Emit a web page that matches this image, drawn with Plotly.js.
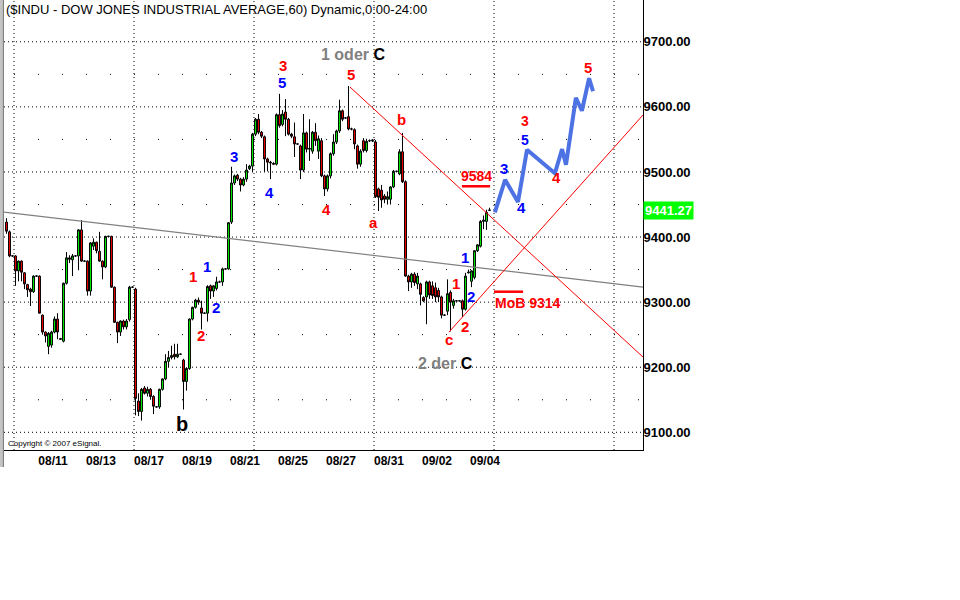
<!DOCTYPE html>
<html><head><meta charset="utf-8">
<script src="https://cdn.plot.ly/plotly-3.0.1.min.js"></script>
<style>html,body{margin:0;padding:0;background:#fff}#chart{width:960px;height:600px}</style>
</head><body><div id="chart"></div>
<script>
// ---------------- DATA ----------------
// trading days shown (8 hourly bars per day); 3 bars of 08/07 precede 08/10
const dayLabels = ['08/10','08/11','08/12','08/13','08/14','08/17','08/18','08/19','08/20','08/21',
                   '08/24','08/25','08/26','08/27','08/28','08/31','09/01','09/02','09/03','09/04'];
const tickDays = ['08/11','08/13','08/17','08/19','08/21','08/25','08/27','08/31','09/02','09/04'];
const barsPerDay = 8;
const preBars = 3;

const open = [
 9423,9408,9371,
 9371,9348,9363,9345,9327,9320,9316,9340,
 9340,9280,9254,9232,9234,9254,9274,9244,
 9240,9329,9368,9365,9371,9371,9411,9363,
 9363,9317,9386,9392,9378,9363,9354,9401,
 9401,9323,9269,9254,9271,9262,9273,9323,
 9320,9148,9132,9168,9160,9166,9155,9139,
 9139,9166,9182,9209,9215,9220,9216,9220,
 9211,9178,9198,9274,9292,9303,9291,9283,
 9283,9325,9317,9321,9331,9331,9351,9351,
 9423,9483,9495,9489,9480,9489,9505,9509,
 9558,9581,9561,9554,9520,9515,9513,9512,
 9588,9573,9592,9581,9558,9554,9543,9540,
 9503,9560,9535,9532,9561,9532,9548,9494,
 9474,9494,9528,9546,9563,9594,9583,9585,
 9566,9565,9540,9512,9548,9533,9548,9548,
 9546,9474,9472,9463,9458,9458,9477,9501,
 9497,9531,9485,9340,9331,9343,9328,9328,
 9307,9308,9331,9325,9322,9318,9308,9280,
 9286,9315,9295,9302,9302,9302,9289,9345,
 9332,9338,9379,9386,9424,9424,9441
];
const high = [
 9429,9410,9372,
 9372,9364,9364,9346,9328,9322,9341,9341,
 9341,9281,9255,9254,9256,9278,9283,9245,
 9330,9377,9372,9374,9372,9412,9426,9364,
 9364,9392,9398,9393,9408,9364,9402,9402,
 9402,9324,9270,9272,9273,9274,9325,9324,
 9322,9160,9168,9171,9170,9168,9157,9140,
 9167,9183,9220,9225,9233,9236,9236,9221,
 9213,9200,9275,9293,9305,9307,9302,9284,
 9326,9327,9326,9339,9333,9353,9352,9423,
 9508,9496,9497,9491,9492,9512,9511,9560,
 9583,9589,9563,9556,9522,9517,9515,9590,
 9620,9595,9612,9583,9560,9576,9544,9542,
 9589,9562,9581,9563,9575,9556,9552,9496,
 9496,9530,9558,9565,9611,9596,9584,9632,
 9568,9567,9542,9535,9552,9551,9550,9550,
 9549,9476,9480,9466,9470,9478,9503,9502,
 9535,9560,9487,9342,9345,9346,9345,9330,
 9309,9333,9333,9332,9330,9322,9310,9281,
 9335,9318,9305,9303,9303,9304,9345,9350,
 9349,9380,9389,9426,9433,9442,9445
];
const low = [
 9405,9369,9370,
 9325,9332,9332,9320,9308,9294,9314,9339,
 9283,9250,9238,9220,9230,9252,9243,9242,
 9238,9327,9360,9340,9370,9349,9362,9362,
 9310,9310,9380,9375,9362,9335,9352,9400,
 9322,9268,9237,9248,9258,9258,9270,9322,
 9126,9125,9118,9158,9155,9150,9128,9138,
 9136,9164,9180,9200,9212,9212,9214,9219,
 9135,9164,9196,9272,9290,9296,9258,9282,
 9270,9305,9308,9318,9330,9325,9350,9350,
 9420,9480,9486,9470,9478,9485,9503,9500,
 9555,9558,9552,9500,9501,9489,9511,9510,
 9568,9570,9555,9556,9552,9523,9542,9489,
 9500,9530,9517,9528,9540,9520,9492,9463,
 9470,9490,9525,9543,9560,9578,9582,9564,
 9564,9535,9505,9508,9530,9530,9546,9546,
 9460,9440,9445,9452,9450,9450,9475,9500,
 9495,9483,9339,9317,9322,9325,9320,9295,
 9300,9266,9305,9305,9300,9300,9275,9279,
 9280,9255,9290,9301,9301,9277,9287,9344,
 9323,9335,9377,9384,9412,9411,9440
];
const close = [
 9409,9371,9371,
 9348,9363,9346,9328,9319,9316,9340,9340,
 9283,9254,9248,9252,9254,9274,9254,9243,
 9329,9368,9366,9371,9371,9411,9363,9363,
 9317,9391,9392,9379,9363,9354,9401,9401,
 9323,9269,9254,9271,9262,9271,9323,9323,
 9152,9132,9166,9160,9166,9155,9140,9139,
 9166,9182,9209,9215,9218,9216,9220,9220,
 9178,9198,9274,9292,9303,9300,9283,9283,
 9324,9317,9325,9331,9331,9351,9351,9422,
 9483,9494,9489,9480,9489,9503,9509,9558,
 9581,9561,9555,9520,9515,9514,9512,9588,
 9571,9589,9581,9558,9555,9543,9543,9503,
 9560,9535,9536,9561,9548,9551,9494,9474,
 9494,9528,9546,9563,9594,9581,9583,9566,
 9566,9543,9512,9532,9533,9547,9548,9549,
 9462,9461,9457,9458,9462,9477,9501,9501,
 9531,9485,9340,9331,9343,9330,9340,9312,
 9302,9331,9311,9310,9308,9308,9280,9280,
 9313,9300,9302,9302,9302,9289,9340,9346,
 9348,9379,9388,9424,9426,9438,9441.27
];
const lastPrice = 9441.27;
const priceTicks = [9100,9200,9300,9400,9500,9600,9700];
const halfLevels = [9150,9250,9350,9450,9550,9650];

// hand-drawn projection (bar-index units, price)
const projX = [159.8,163.2,167.5,170.5,179.8,182.2,183.5,186.8,188.8,191.2,192.5];
const projY = [9438,9488,9454,9534,9498,9535,9511,9614,9594,9644,9624];
// trend lines
const grayLineX = [-3.83,209.17], grayLineY = [9438.4,9323.2];
const redDownX = [111.5,209.17], redDownY = [9630.5,9215.6];
const redUpX = [144.5,209.17], redUpY = [9254,9587.5];

// ---------------- BUILD ----------------
const N = open.length;
const xIdx = [];
for (let i = 0; i < N; i++) xIdx.push(i - preBars);
const xRange = [-3.83, 209.17];
const yRange = [9072.8, 9764.2];
const labelOffset = 5; // date label centred 5 bars after day start
const tickvals = tickDays.map(d => dayLabels.indexOf(d) * barsPerDay - 0.5 + labelOffset);

const RED = '#ff0000', BLUE = '#0000ff', GRAY = '#808080', BLACK = '#000000';
const FONT = 'Liberation Sans, Arial, sans-serif';

const traces = [
 {type:'candlestick', x:xIdx, open:open, high:high, low:low, close:close,
  increasing:{line:{color:BLACK,width:1}, fillcolor:'#00ff00'},
  decreasing:{line:{color:BLACK,width:1}, fillcolor:'#ff0000'},
  whiskerwidth:0, hoverinfo:'skip', showlegend:false},
 {type:'scatter', mode:'lines', x:grayLineX, y:grayLineY, line:{color:GRAY,width:1.2}, hoverinfo:'skip', showlegend:false},
 {type:'scatter', mode:'lines', x:redDownX, y:redDownY, line:{color:RED,width:1}, hoverinfo:'skip', showlegend:false},
 {type:'scatter', mode:'lines', x:redUpX, y:redUpY, line:{color:RED,width:1}, hoverinfo:'skip', showlegend:false},
 {type:'scatter', mode:'lines', x:projX, y:projY, line:{color:'#4d72e3',width:4}, hoverinfo:'skip', showlegend:false},
 {type:'scatter', mode:'lines', x:[148.8,158.2], y:[9478,9478], line:{color:RED,width:2.5}, hoverinfo:'skip', showlegend:false},
 {type:'scatter', mode:'lines', x:[159.5,169.2], y:[9316,9316], line:{color:RED,width:2.5}, hoverinfo:'skip', showlegend:false}
];

const shapes = [];
priceTicks.forEach(p => shapes.push({type:'line', xref:'paper', x0:0, x1:1, yref:'y', y0:p, y1:p,
  line:{color:BLACK,width:1,dash:'1px,3px'}, layer:'below'}));
halfLevels.forEach(p => shapes.push({type:'line', xref:'x', x0:-0.5, x1:xRange[1], yref:'y', y0:p, y1:p,
  line:{color:BLACK,width:1,dash:'1px,23px'}, layer:'below'}));
for (let w = 0; w < 6; w++) {
  const k = w * 5 * barsPerDay - 0.5;
  shapes.push({type:'line', xref:'x', x0:k, x1:k, yref:'paper', y0:0, y1:1,
    line:{color:BLACK,width:1,dash:'1px,3px'}, layer:'below'});
}
// left frame stripe
shapes.push({type:'rect', xref:'paper', x0:-4/639, x1:-1/639, yref:'paper', y0:-17/450, y1:1,
  fillcolor:'#c4c4c4', line:{width:0}, layer:'above'});
shapes.push({type:'line', xref:'paper', x0:-0.6/639, x1:-0.6/639, yref:'paper', y0:-17/450, y1:1,
  line:{color:'#707070',width:1}, layer:'above'});

const labels = [
 ['3',RED,89.2,9664,15], ['5',BLUE,88.8,9637,15],
 ['5',RED,111.8,9649,15], ['b',RED,128.8,9581,15],
 ['3',BLUE,72.8,9523,15], ['4',BLUE,84.8,9469,15],
 ['4',RED,103.8,9443,15], ['a',RED,119.5,9422,15],
 ['1',RED,59.2,9340,15], ['1',BLUE,63.8,9354,15],
 ['2',BLUE,66.8,9291,15], ['2',RED,61.8,9249,15],
 ['b',BLACK,55.5,9113,20],
 ['9584',RED,153.8,9494,14], ['3',BLUE,162.8,9506,15],
 ['3',RED,169.8,9578,14], ['5',BLUE,169.8,9549,14],
 ['4',BLUE,168.8,9445,15], ['4',RED,180.5,9491,15],
 ['5',RED,190.8,9661,15],
 ['1',BLUE,149.8,9369,15], ['1',RED,146.8,9329,15],
 ['2',BLUE,151.8,9309,15], ['2',RED,149.8,9262,15],
 ['c',RED,144.5,9242,15], ['MoB 9314',RED,170.8,9299,14]
];
const annotations = labels.map(l => ({xref:'x', yref:'y', x:l[2], y:l[3], text:'<b>'+l[0]+'</b>',
  showarrow:false, xanchor:'center', yanchor:'middle', font:{family:FONT, size:l[4], color:l[1]}}));
annotations.push({xref:'x', yref:'y', x:112.5, y:9681, showarrow:false, xanchor:'center', yanchor:'middle',
  text:'<b><span style="color:#808080">1 oder</span> <span style="color:#000000">C</span></b>',
  font:{family:FONT, size:16, color:GRAY}});
annotations.push({xref:'x', yref:'y', x:143.2, y:9206, showarrow:false, xanchor:'center', yanchor:'middle',
  text:'<b><span style="color:#808080">2 der</span> <span style="color:#000000">C</span></b>',
  font:{family:FONT, size:16, color:GRAY}});
annotations.push({xref:'paper', yref:'paper', x:0, y:1, xanchor:'left', yanchor:'top', showarrow:false,
  text:'($INDU - DOW JONES INDUSTRIAL AVERAGE,60) Dynamic,0:00-24:00',
  font:{family:FONT, size:13, color:BLACK}});
annotations.push({xref:'paper', yref:'paper', x:2/639, y:7/450, xanchor:'left', yanchor:'middle', showarrow:false,
  text:'Copyright \u00a9 2007 eSignal.', font:{family:FONT, size:8, color:BLACK}});
annotations.push({xref:'paper', yref:'y', x:1-0.5/639, y:lastPrice, xanchor:'left', yanchor:'middle', showarrow:false,
  text:'<b>'+lastPrice.toFixed(2)+'</b>', bgcolor:'#00ff00', borderpad:1,
  font:{family:FONT, size:13, color:'#ffffff'}});

const layout = {
  width:960, height:600,
  margin:{l:4, r:317, t:0, b:150, pad:0},
  paper_bgcolor:'#ffffff', plot_bgcolor:'#ffffff',
  showlegend:false, boxgap:0.1,
  xaxis:{range:xRange, showgrid:false, zeroline:false, showline:true, linecolor:BLACK, linewidth:1,
    tickvals:tickvals, ticktext:tickDays, ticks:'', tickfont:{family:FONT, size:12, color:BLACK, weight:'bold'},
    rangeslider:{visible:false}, fixedrange:true},
  yaxis:{range:yRange, side:'right', showgrid:false, zeroline:false, showline:true, linecolor:BLACK, linewidth:1,
    tickvals:priceTicks, tickformat:'.2f', ticks:'', ticklabelstandoff:-3,
    tickfont:{family:FONT, size:13, color:BLACK, weight:'bold'}, fixedrange:true},
  shapes:shapes, annotations:annotations
};

Plotly.newPlot('chart', traces, layout, {displayModeBar:false, staticPlot:true});
</script></body></html>
